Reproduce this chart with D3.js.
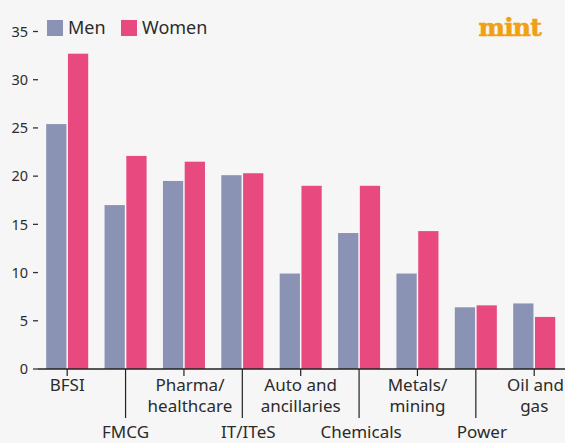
<!DOCTYPE html>
<html>
<head>
<meta charset="utf-8">
<script src="https://cdn.jsdelivr.net/npm/d3@7"></script>
<style>
  html, body { margin: 0; padding: 0; background: #f6f6f6; }
  svg { display: block; font-family: "Noto Sans", "Open Sans", sans-serif; }
</style>
</head>
<body>
<svg id="chart" width="565" height="443"></svg>
<script>
// data (share, %)
var categories = ["BFSI", "FMCG", "Pharma/healthcare", "IT/ITeS", "Auto and ancillaries", "Chemicals", "Metals/mining", "Power", "Oil and gas"];
var labelLines = [["BFSI"], ["FMCG"], ["Pharma/", "healthcare"], ["IT/ITeS"], ["Auto and", "ancillaries"], ["Chemicals"], ["Metals/", "mining"], ["Power"], ["Oil and", "gas"]];
var men   = [25.4, 17.0, 19.5, 20.1, 9.9, 14.1, 9.9, 6.4, 6.8];
var women = [32.7, 22.1, 21.5, 20.3, 19.0, 19.0, 14.3, 6.6, 5.4];
var seriesNames = ["Men", "Women"];
var yTicks = [0, 5, 10, 15, 20, 25, 30, 35];

var colors = {"Men": "#8a93b3", "Women": "#e8497f"};

var svg = d3.select("#chart");
var width = 565, height = 443;
var margin = {top: 31.5, right: 2, bottom: 74, left: 38};

var rows = categories.map(function (c, i) {
    return {cat: c, lines: labelLines[i], Men: men[i], Women: women[i], idx: i};
});

var x0 = d3.scaleBand()
    .domain(categories)
    .range([margin.left, 563.4])
    .paddingInner(0.28)
    .paddingOuter(0.14);

var x1 = d3.scaleBand()
    .domain(seriesNames)
    .range([0, x0.bandwidth()])
    .paddingInner(0.07);

var y = d3.scaleLinear()
    .domain([0, 35])
    .range([369, margin.top]);

// y axis: just labels and small dashes
var yAxis = svg.append("g").attr("class", "y axis");
yAxis.selectAll("line").data(yTicks).enter().append("line")
    .attr("x1", 33).attr("x2", 38)
    .attr("y1", function (d) { return y(d); })
    .attr("y2", function (d) { return y(d); })
    .attr("stroke", "#333").attr("stroke-width", 1.3);
yAxis.selectAll("text").data(yTicks).enter().append("text")
    .attr("x", 28)
    .attr("y", function (d) { return y(d); })
    .attr("dy", "0.36em")
    .attr("text-anchor", "end")
    .attr("font-size", 14.5)
    .attr("fill", "#2b2b2b")
    .text(function (d) { return d; });

// bars
var groups = svg.append("g").selectAll("g").data(rows).enter().append("g")
    .attr("transform", function (d) { return "translate(" + x0(d.cat) + ",0)"; });

groups.selectAll("rect")
    .data(function (d) { return seriesNames.map(function (s) { return {key: s, value: d[s]}; }); })
    .enter().append("rect")
    .attr("x", function (d) { return x1(d.key); })
    .attr("y", function (d) { return y(d.value); })
    .attr("width", x1.bandwidth())
    .attr("height", function (d) { return y(0) - y(d.value); })
    .attr("fill", function (d) { return colors[d.key]; });

// x axis line
svg.append("line")
    .attr("x1", 38).attr("x2", width)
    .attr("y1", y(0)).attr("y2", y(0))
    .attr("stroke", "#222").attr("stroke-width", 1.3);

// small nudges of some labels off their tick, as in the original
var labelShift = {"Pharma/healthcare": 6, "IT/ITeS": 6, "Power": 6, "Chemicals": 2};

// category ticks: every other one is long, labels staggered
var xAx = svg.append("g").attr("class", "x axis");
rows.forEach(function (d) {
    var cx = x0(d.cat) + x0.bandwidth() / 2;
    var low = d.idx % 2 === 1;
    xAx.append("line")
        .attr("x1", cx).attr("x2", cx)
        .attr("y1", y(0)).attr("y2", low ? 418 : 376)
        .attr("stroke", "#222").attr("stroke-width", 1.2);

    var anchor = "middle", tx = cx + (labelShift[d.cat] || 0);
    if (d.idx === rows.length - 1) { anchor = "end"; tx = 564; }
    var t = xAx.append("text")
        .attr("text-anchor", anchor)
        .attr("font-size", 17)
        .attr("fill", "#2b2b2b");
    d.lines.forEach(function (l, j) {
        var ty = low ? 438 : 391 + j * 21;
        var span = t.append("tspan").attr("x", tx).attr("y", ty).text(l);
        if (d.idx === rows.length - 1 && j === 1) {
            span.attr("x", cx).attr("text-anchor", "middle");
        }
    });
});

// legend
var legend = svg.append("g").attr("class", "legend");
var legX = [47, 121];
seriesNames.forEach(function (s, i) {
    legend.append("rect")
        .attr("x", legX[i]).attr("y", 20)
        .attr("width", 16).attr("height", 16)
        .attr("fill", colors[s]);
    legend.append("text")
        .attr("x", legX[i] + 21).attr("y", 34)
        .attr("font-size", 18)
        .attr("fill", "#2b2b2b")
        .text(s);
});

// brand mark
svg.append("text")
    .attr("x", 541).attr("y", 36)
    .attr("text-anchor", "end")
    .attr("font-family", "DejaVu Serif, serif")
    .attr("font-weight", "bold")
    .attr("font-size", 25)
    .attr("letter-spacing", -0.8)
    .attr("fill", "#f0a010")
    .attr("stroke", "#f0a010")
    .attr("stroke-width", 0.6)
    .text("mint");
</script>
</body>
</html>
